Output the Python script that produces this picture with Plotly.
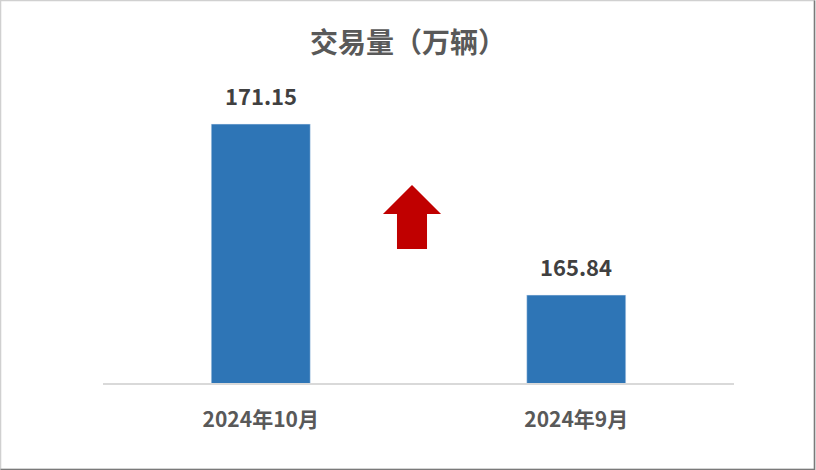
import plotly.graph_objects as go

months = ["2024年10月", "2024年9月"]
volume = [171.15, 165.84]
y_min = 163.11
y_max = 173.14

font = "Noto Sans CJK SC"
grey = "#595959"

fig = go.Figure(go.Bar(
    x=months,
    y=volume,
    marker_color="#2E75B6",
    hoverinfo="x+y",
))

# value labels above the bars
for m, v in zip(months, volume):
    fig.add_annotation(x=m, y=v, text=f"<b>{v:.2f}</b>", showarrow=False,
                       yanchor="bottom", yshift=11,
                       font=dict(size=22, color="#404040", family=font))

# red up arrow between the bars (paper coords)
fig.add_shape(
    type="path", xref="paper", yref="paper",
    path="M 0.5357 0.5232 L 0.5135 0.5232 L 0.5135 0.4149 L 0.4659 0.4149 "
         "L 0.4659 0.5232 L 0.4437 0.5232 L 0.4897 0.613 Z",
    fillcolor="#C00000", line=dict(width=0),
)
# outer border: light top/left, darker right/bottom
fig.add_shape(type="rect", xref="paper", yref="paper",
              x0=-0.1624, x1=1.1276, y0=-0.2678, y1=1.1842,
              line=dict(color="#d0d0d0", width=1.5))
fig.add_shape(type="path", xref="paper", yref="paper",
              path="M 1.1276 1.1842 L 1.1276 -0.2678 L -0.1624 -0.2678",
              line=dict(color="#7a7a7a", width=1.5))

fig.update_layout(
    width=816, height=470,
    margin=dict(l=103, r=82, t=60, b=87),
    paper_bgcolor="white", plot_bgcolor="white",
    bargap=0.686,
    showlegend=False,
    title=dict(text="<b>交易量（万辆）</b>", x=0.5, xanchor="center", y=0.908,
               yanchor="middle", font=dict(size=28, color=grey, family=font)),
    xaxis=dict(showline=True, linecolor="#d9d9d9", linewidth=1.5, ticks="",
               ticklabelstandoff=17,
               tickfont=dict(size=21, color=grey, family=font),
               tickprefix="<b>", ticksuffix="</b>"),
    yaxis=dict(range=[y_min, y_max], visible=False),
)
fig.write_html("out.html", config={"displayModeBar": False},
               post_script="document.body.style.margin='0';")
